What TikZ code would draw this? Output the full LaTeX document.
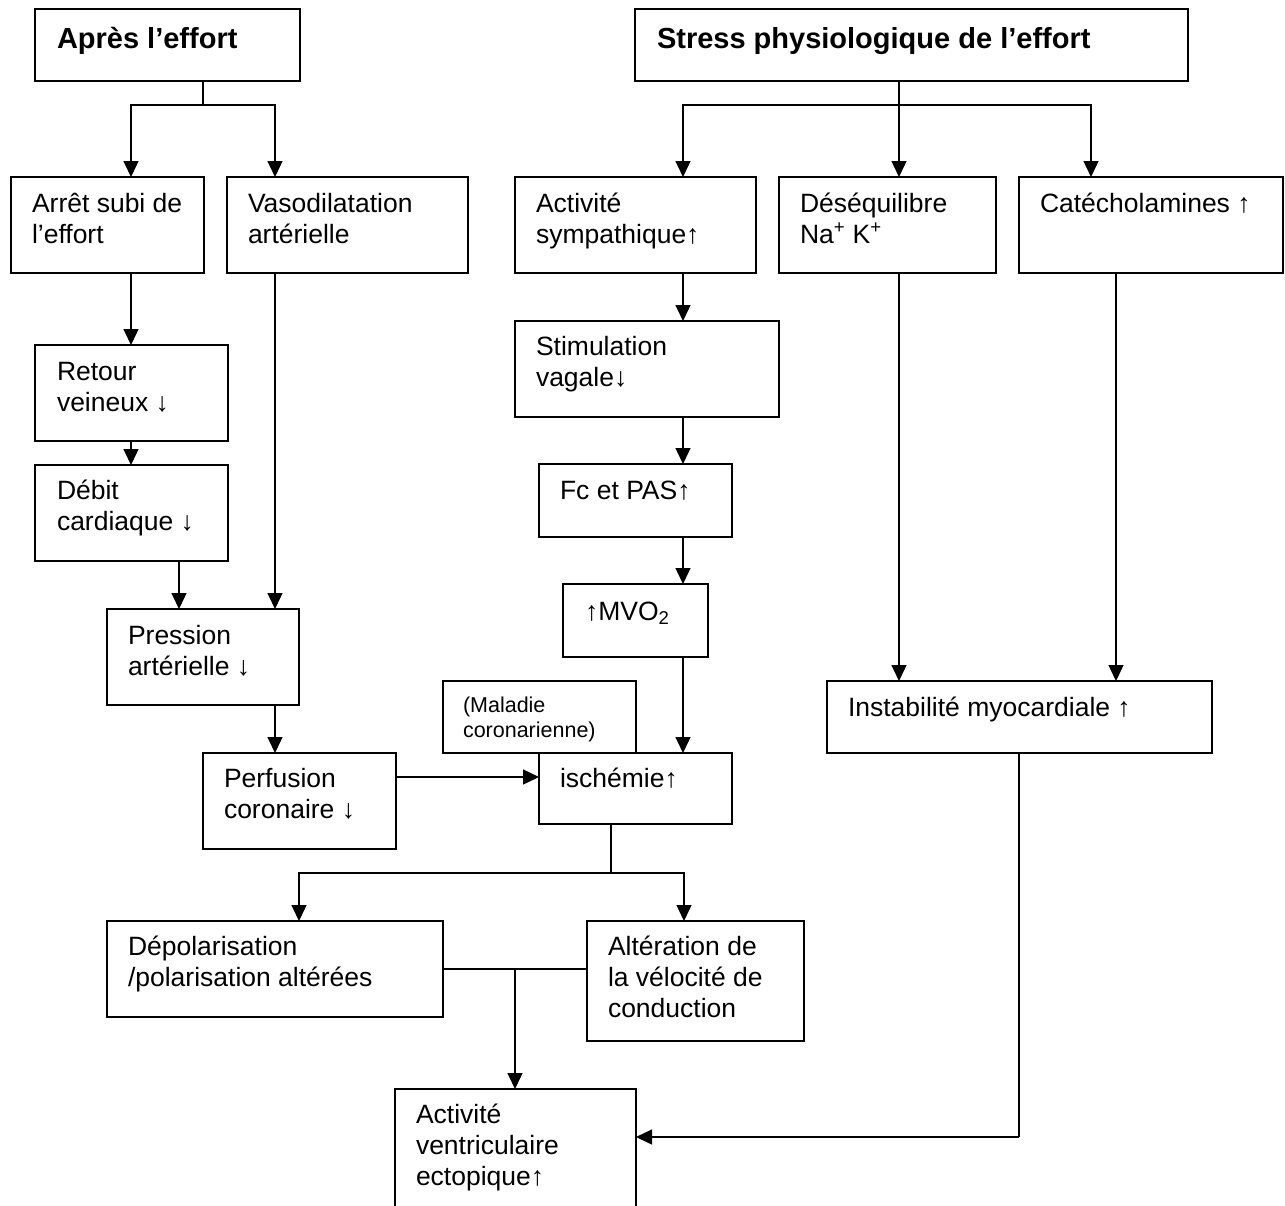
\documentclass[tikz,border=0pt]{standalone}
\usepackage{fontspec}
\setmainfont{Liberation Sans}
\usetikzlibrary{arrows.meta,calc}
\newcommand\bx[9]{% style, name, x1, y1, x2, y2, left offset, first baseline, text
  \node[#1, anchor=north west] (#2) at (#3,#4)
    {\parbox[b][\dimexpr#6pt-#4pt\relax][t]{\dimexpr#5pt-#3pt\relax}{\raggedright\leftskip=#7pt\relax\rule{0pt}{#8pt}#9}};}
\tikzset{
  boxst/.style={draw, line width=1.8pt, inner sep=0pt, outer sep=0pt, font=\fontsize{26.5}{31}\selectfont},
  titlest/.style={boxst, font=\fontsize{29}{34}\selectfont\bfseries},
  smallst/.style={boxst, font=\fontsize{21.5}{25}\selectfont},
  conn/.style={line width=1.4pt},
  arr/.style={conn, -{Triangle[length=16pt,width=15pt]}}
}
\begin{document}
\begin{tikzpicture}[x=1pt,y=-1pt]
\clip (0,0) rectangle (1285,1205);
\fill[white] (0,0) rectangle (1285,1205);
% boxes
\bx{titlest}{apres}{35}{9}{300}{81}{22}{39}{Après l’effort}
\bx{titlest}{stress}{635}{9}{1188}{81}{22}{39}{Stress physiologique de l’effort}
\bx{boxst}{arret}{11}{177}{204}{273}{21}{35}{Arrêt subi de\\ l’effort}
\bx{boxst}{vaso}{227}{177}{468}{273}{21}{35}{Vasodilatation\\ artérielle}
\bx{boxst}{activ}{515}{177}{756}{273}{21}{35}{Activité\\ sympathique↑}
\bx{boxst}{deseq}{779}{177}{996}{273}{21}{35}{Déséquilibre\\ Na\textsuperscript{+} K\textsuperscript{+}}
\bx{boxst}{catec}{1019}{177}{1283}{273}{21}{35}{Catécholamines ↑}
\bx{boxst}{retour}{35}{345}{228}{441}{22}{35}{Retour\\ veineux ↓}
\bx{boxst}{debit}{35}{465}{228}{561}{22}{34}{Débit\\ cardiaque ↓}
\bx{boxst}{pression}{107}{609}{299}{705}{21}{35}{Pression\\ artérielle ↓}
\bx{boxst}{perfusion}{203}{753}{396}{849}{21}{34}{Perfusion\\ coronaire ↓}
\bx{boxst}{stim}{515}{321}{779}{417}{21}{34}{Stimulation\\ vagale↓}
\bx{boxst}{fc}{539}{464}{732}{537}{21}{35}{Fc et PAS↑}
\bx{boxst}{mvo}{563}{584}{708}{657}{22}{36}{↑MVO\textsubscript{2}}
\bx{smallst}{maladie}{443}{681}{636}{753}{20}{31}{(Maladie\\ coronarienne)}
\bx{boxst}{ischemie}{539}{753}{732}{824}{21}{34}{ischémie↑}
\bx{boxst}{instab}{827}{681}{1212}{753}{21}{35}{Instabilité myocardiale ↑}
\bx{boxst}{depol}{107}{921}{443}{1017}{21}{34}{Dépolarisation\\ /polarisation altérées}
\bx{boxst}{alter}{587}{921}{804}{1041}{21}{34}{Altération de\\ la vélocité de\\ conduction}
\bx{boxst}{ectop}{395}{1089}{636}{1215}{21}{34}{Activité\\ ventriculaire\\ ectopique↑}
% junctions
\coordinate (j1) at (203,105);
\coordinate (j2) at (899,105);
\coordinate (j3) at (611,873);
\coordinate (j4) at (515,969);
\coordinate (j5) at (1019,1137);
% left branch
\draw[conn] (j1 |- apres.south) -- (j1);
\draw[arr] (j1) -| (131,0 |- arret.north);
\draw[arr] (j1) -| (275,0 |- vaso.north);
\draw[arr] (131,0 |- arret.south) -- (131,0 |- retour.north);
\draw[arr] (131,0 |- retour.south) -- (131,0 |- debit.north);
\draw[arr] (179,0 |- debit.south) -- (179,0 |- pression.north);
\draw[arr] (275,0 |- vaso.south) -- (275,0 |- pression.north);
\draw[arr] (275,0 |- pression.south) -- (275,0 |- perfusion.north);
\draw[arr] (perfusion.east |- 0,777) -- (ischemie.west |- 0,777);
% right branch
\draw[conn] (j2 |- stress.south) -- (j2);
\draw[arr] (j2) -- (j2 |- deseq.north);
\draw[arr] (j2) -| (683,0 |- activ.north);
\draw[arr] (j2) -| (1091,0 |- catec.north);
\draw[arr] (683,0 |- activ.south) -- (683,0 |- stim.north);
\draw[arr] (683,0 |- stim.south) -- (683,0 |- fc.north);
\draw[arr] (683,0 |- fc.south) -- (683,0 |- mvo.north);
\draw[arr] (683,0 |- mvo.south) -- (683,0 |- ischemie.north);
\draw[arr] (899,0 |- deseq.south) -- (899,0 |- instab.north);
\draw[arr] (1116,0 |- catec.south) -- (1116,0 |- instab.north);
% lower part
\draw[conn] (j3 |- ischemie.south) -- (j3);
\draw[arr] (j3) -| (299,0 |- depol.north);
\draw[arr] (j3) -| (684,0 |- alter.north);
\draw[conn] (depol.east |- j4) -- (alter.west |- j4);
\draw[arr] (j4) -- (j4 |- ectop.north);
\draw[conn] (j5 |- instab.south) -- (j5);
\draw[arr] (j5) -- (ectop.east |- j5);
\end{tikzpicture}
\end{document}
